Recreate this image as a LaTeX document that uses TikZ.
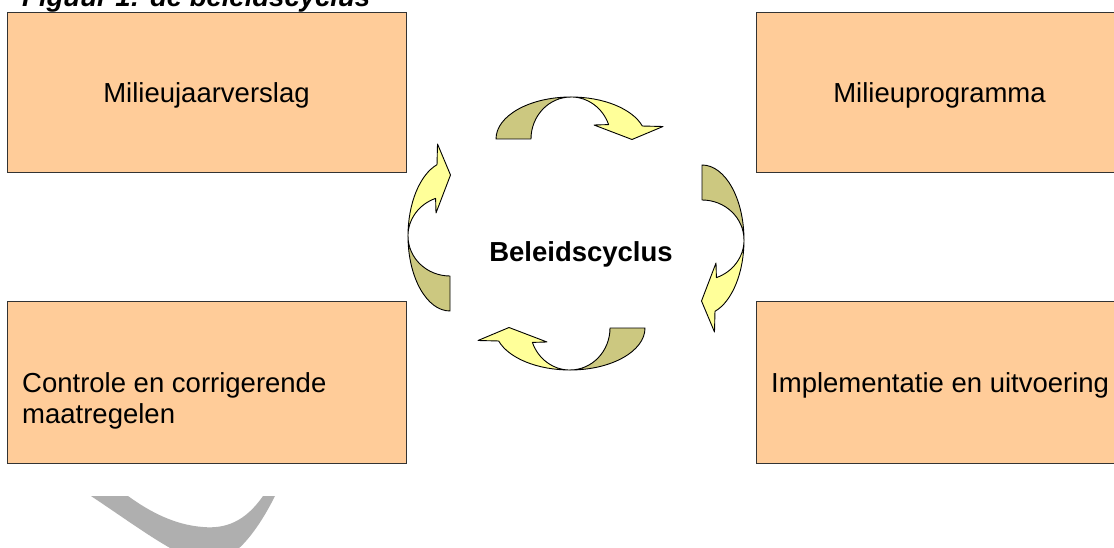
\documentclass[tikz,border=0pt]{standalone}
\usepackage{fontspec}
\setmainfont{Liberation Sans}
\definecolor{boxfill}{RGB}{255,204,153}
\definecolor{boxline}{RGB}{51,51,51}
\definecolor{arrowdark}{RGB}{204,200,128}
\definecolor{arrowlight}{RGB}{255,255,153}
\definecolor{greyarc}{RGB}{175,175,175}
\tikzset{
  phasebox/.style={fill=boxfill, draw=boxline, line width=1pt},
  phasetext/.style={inner sep=0pt, font=\fontsize{27.5pt}{31.5pt}\selectfont},
  ribbon/.style={draw=black, line width=0.9pt, line join=round},
  cyclearrow/.pic={
    \filldraw[ribbon, fill=arrowdark] (-75,0)
      arc[start angle=180, end angle=90, x radius=75, y radius=42]
      arc[start angle=90, end angle=180, x radius=40, y radius=42] -- cycle;
    \filldraw[ribbon, fill=arrowlight] (0,42)
      arc[start angle=90, end angle=18, x radius=75, y radius=42]
      -- (92,12.5) -- (61,-0.5) -- (23,14) -- (37.6,14.4)
      arc[start angle=20, end angle=90, x radius=40, y radius=42] -- cycle;
  }
}
\begin{document}
\begin{tikzpicture}[x=1pt, y=1pt]
\useasboundingbox (0,0) rectangle (1114,547);
\fill[white] (0,0) rectangle (1114,547);
% boxes
\draw[phasebox] (7,374) rectangle (406,534);
\draw[phasebox] (756,374) rectangle (1124,534);
\draw[phasebox] (7,84) rectangle (406,245);
\draw[phasebox] (756,84) rectangle (1124,245);
% texts
\node[phasetext, anchor=base west, font=\fontsize{27.5pt}{31.5pt}\selectfont\bfseries\itshape] (title) at (22,540.5) {Figuur 1: de beleidscyclus};
\node[phasetext, anchor=base] (mjv) at (206.5,444) {Milieujaarverslag};
\node[phasetext, anchor=base] (mp) at (939.5,444) {Milieuprogramma};
\node[phasetext, anchor=base west] (iu) at (771,155) {Implementatie en uitvoering};
\node[phasetext, anchor=base west] (cc) at (22,155) {\begin{tabular}[t]{@{}l@{}}Controle en corrigerende\\maatregelen\end{tabular}};
\node[phasetext, anchor=base, font=\fontsize{27.5pt}{31.5pt}\selectfont\bfseries] (bc) at (581,285) {Beleidscyclus};
% cycle arrows
\pic at (571,408) {cyclearrow};
\pic[rotate=-90] at (702,307) {cyclearrow};
\pic[rotate=180] at (570,219) {cyclearrow};
\pic[rotate=90] at (450,311) {cyclearrow};
% grey arc at bottom
\fill[greyarc] (91,51) .. controls (145,15) and (190,-20) .. (215,-15)
  .. controls (240,-10) and (262,25) .. (275,51) -- (263,51)
  .. controls (245,25) and (225,18) .. (203,20)
  .. controls (175,22) and (150,35) .. (128,51) -- cycle;
\end{tikzpicture}
\end{document}
